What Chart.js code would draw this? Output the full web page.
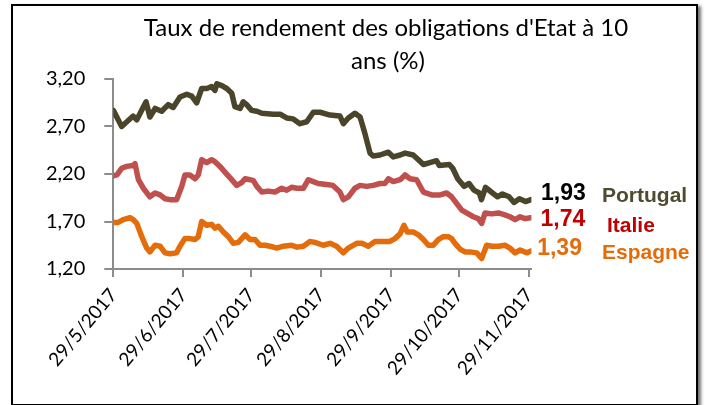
<!DOCTYPE html>
<html>
<head>
<meta charset="utf-8">
<script src="https://cdn.jsdelivr.net/npm/chart.js@4"></script>
<style>
  html, body { margin: 0; padding: 0; background: #fff; }
  #frame { position: absolute; left: 11px; top: 4px; width: 683px; height: 398px;
           border: 2px solid #000; box-shadow: 3px 2px 3px rgba(0,0,0,0.55); background: #fff; }
  #c { position: absolute; left: 0; top: 0; }
</style>
</head>
<body>
<div id="frame"></div>
<canvas id="c" width="705" height="405"></canvas>
<script>
// ---- Data (day offsets from 29/5/2017) ----
const titleLines = ["Taux de rendement des obligations d'Etat à 10", "ans (%)"];
const tickDays = [0, 31, 61, 92, 123, 153, 184];
const tickLabels = ['29/5/2017', '29/6/2017', '29/7/2017', '29/8/2017', '29/9/2017', '29/10/2017', '29/11/2017'];
const yTickValues = [1.2, 1.7, 2.2, 2.7, 3.2];
const seriesNames = ['Portugal', 'Italie', 'Espagne'];

const ptDays = [0,3.7,8.8,10.4,14.5,16.2,18.5,21.4,24.3,26.5,29.5,32.5,34.7,36.9,39.1,41.3,43.5,45,45.8,48,50.2,52.4,53.8,56.1,57.5,59,61.2,63.5,65.7,70.8,73.8,76.7,79.6,82.6,85.6,88.5,91.5,95.9,100.3,101.8,104,106.9,109.2,111.4,113.6,115,118,121.7,123.9,126.9,129.1,132.7,135,137.2,140.1,143,144.2,148.7,150.2,152.4,155.2,157.4,159.6,162,162.9,164.7,167.8,170,172.2,175.1,177.3,179.7,182.4,184.8];
const ptVals = [2.87,2.70,2.81,2.77,2.96,2.80,2.89,2.86,2.93,2.90,3.01,3.04,3.02,2.95,3.10,3.10,3.12,3.08,3.15,3.13,3.10,3.05,2.91,2.89,2.96,2.93,2.87,2.86,2.84,2.83,2.83,2.79,2.78,2.73,2.75,2.85,2.85,2.82,2.81,2.73,2.79,2.84,2.80,2.62,2.42,2.39,2.40,2.43,2.38,2.40,2.42,2.40,2.35,2.30,2.32,2.34,2.29,2.30,2.26,2.15,2.07,2.10,2.03,2.00,1.93,2.06,2.00,1.96,1.99,1.96,1.90,1.94,1.91,1.93];

const itDays = [0,1.6,3.7,5.9,8.8,9.6,11.1,13.3,16.2,18.5,20.7,22.9,25.1,28,30.3,31.7,33.9,36.2,37.6,39.1,41.3,43.5,45,47.2,49.4,52.4,54.6,56.8,58.3,60.5,62,63.5,65.7,68.6,71.5,74.5,76.7,78.9,81.2,84.1,86.3,88.5,90.7,94.4,97.2,100.3,101.8,104,106.9,109.2,112.1,115,118,120.2,121.7,123.9,126.9,129.1,131.3,134.2,137.2,140.9,144.6,147.5,149.7,151.9,154.2,157.1,159.3,161.5,163,164.5,167.4,170.4,173.3,175.5,177.8,180,182.2,184.6];
const itVals = [2.18,2.19,2.26,2.28,2.29,2.31,2.14,2.05,1.96,2.00,1.98,1.94,1.93,1.93,2.07,2.19,2.19,2.15,2.19,2.35,2.32,2.35,2.33,2.28,2.22,2.14,2.08,2.11,2.15,2.14,2.13,2.07,2.01,2.02,2.01,2.05,2.03,2.06,2.05,2.05,2.14,2.12,2.10,2.09,2.08,2.01,1.93,1.96,2.05,2.08,2.07,2.08,2.10,2.10,2.15,2.12,2.14,2.19,2.15,2.14,2.01,1.98,1.98,2.00,1.96,1.89,1.82,1.78,1.75,1.73,1.68,1.79,1.78,1.79,1.77,1.75,1.72,1.75,1.73,1.74];

const esDays = [0,2.1,4.4,7.4,8.8,10.4,12.6,14.8,16.2,18.5,20.7,22.9,25.1,28,29.5,31.7,33.9,36.2,37.6,39.1,41.3,43.5,45,46.5,48.7,50.9,53.1,55.3,58.3,60.5,62.7,64.9,67.1,69.4,72.3,75.2,78.9,81.2,84.1,87,89.2,92.9,95.9,98.8,101.8,104,107.7,110,112.8,115.8,119.5,122.4,124.6,126.9,128.6,130.1,132.7,135,137.2,139.4,141.6,143.8,146,148.2,149.7,151.2,153.4,155.6,157.9,160.8,163,165.2,167.4,170.4,173.3,175.5,177.8,180,182.9,184.9];
const esVals = [1.69,1.69,1.72,1.74,1.72,1.68,1.54,1.42,1.38,1.45,1.44,1.37,1.36,1.37,1.44,1.52,1.52,1.51,1.54,1.70,1.66,1.67,1.63,1.65,1.59,1.54,1.47,1.48,1.56,1.51,1.51,1.45,1.45,1.44,1.42,1.44,1.45,1.43,1.44,1.49,1.48,1.45,1.47,1.44,1.37,1.42,1.47,1.47,1.44,1.49,1.49,1.49,1.52,1.57,1.66,1.59,1.59,1.56,1.51,1.45,1.45,1.51,1.54,1.54,1.52,1.47,1.41,1.38,1.38,1.37,1.31,1.45,1.44,1.44,1.45,1.42,1.37,1.40,1.37,1.39];

// ---- Styles ----
const lineColors = ['#4a452a', '#c0504d', '#e46c0a'];
const valueColors = ['#000000', '#c00000', '#e46c0a'];
const nameColors = ['#4f4b31', '#c00000', '#e46c0a'];
const FONT = 'Lato, "Open Sans", sans-serif';

const toPts = (d, v) => d.map((x, i) => ({ x: x, y: v[i] }));
const fmt = v => v.toFixed(2).replace('.', ',');

const overlay = {
  id: 'overlay',
  afterDraw(chart) {
    const ctx = chart.ctx;
    ctx.save();
    // title
    ctx.fillStyle = '#000';
    ctx.font = '24px ' + FONT;
    ctx.textAlign = 'center';
    ctx.textBaseline = 'alphabetic';
    ctx.fillText(titleLines[0], 386, 36);
    ctx.fillText(titleLines[1], 388, 69);
    // end labels
    const xs = chart.scales.x, ys = chart.scales.y;
    const dsets = chart.data.datasets;
    const valOff = [{dx: 10, dy: 0}, {dx: 10, dy: 8}, {dx: 6, dy: 4}];
    const nameX = [602, 607, 602];
    const nameDy = [2, 14, 8];
    ctx.textAlign = 'left';
    dsets.forEach((ds, i) => {
      const last = ds.data[ds.data.length - 1];
      const px = xs.getPixelForValue(last.x);
      const py = ys.getPixelForValue(last.y);
      ctx.font = 'bold 23px "Liberation Sans", Arial, sans-serif';
      ctx.fillStyle = valueColors[i];
      ctx.fillText(fmt(last.y), px + valOff[i].dx, py + valOff[i].dy);
      ctx.font = 'bold 21px "Liberation Sans", Arial, sans-serif';
      ctx.fillStyle = nameColors[i];
      ctx.fillText(seriesNames[i], nameX[i], py + nameDy[i]);
    });
    ctx.restore();
  }
};

new Chart(document.getElementById('c'), {
  type: 'line',
  data: {
    datasets: [
      { label: seriesNames[0], data: toPts(ptDays, ptVals), borderColor: lineColors[0] },
      { label: seriesNames[1], data: toPts(itDays, itVals), borderColor: lineColors[1] },
      { label: seriesNames[2], data: toPts(esDays, esVals), borderColor: lineColors[2] }
    ]
  },
  options: {
    responsive: false,
    animation: false,
    devicePixelRatio: 1,
    layout: { padding: { top: 79, right: 173.6, left: 0, bottom: 0 } },
    elements: {
      line: { borderWidth: 5.5, tension: 0, borderJoinStyle: 'round', borderCapStyle: 'round', fill: false },
      point: { radius: 0, hoverRadius: 0 }
    },
    plugins: { legend: { display: false }, title: { display: false }, tooltip: { enabled: false } },
    scales: {
      x: {
        type: 'linear', min: 0, max: 185,
        afterBuildTicks: s => { s.ticks = tickDays.map(v => ({ value: v })); },
        afterFit: s => { s.height = 136; },
        grid: { drawOnChartArea: false, tickLength: 8, color: '#8c8c8c', lineWidth: 2 },
        border: { color: '#8c8c8c', width: 2 },
        ticks: {
          autoSkip: false, minRotation: 50, maxRotation: 50, padding: 7,
          color: '#000', font: { family: FONT, size: 19 },
          callback: v => { const i = tickDays.indexOf(v); return i >= 0 ? tickLabels[i] : ''; }
        }
      },
      y: {
        type: 'linear', min: 1.2, max: 3.2,
        afterBuildTicks: s => { s.ticks = yTickValues.map(v => ({ value: v })); },
        afterFit: s => { s.width = 113.3; },
        grid: { drawOnChartArea: false, tickLength: 9, color: '#8c8c8c', lineWidth: 2 },
        border: { color: '#8c8c8c', width: 2 },
        ticks: { padding: 19, color: '#000', font: { family: FONT, size: 20 }, callback: v => fmt(v) }
      }
    }
  },
  plugins: [overlay]
});
</script>
</body>
</html>
